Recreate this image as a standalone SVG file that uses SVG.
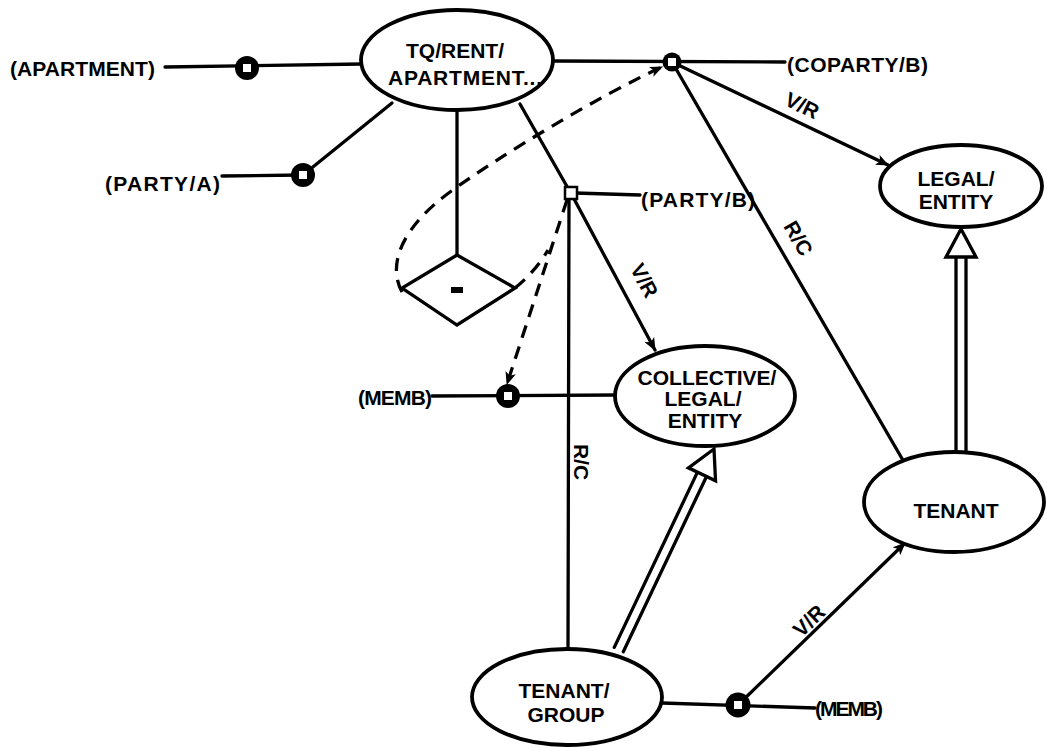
<svg xmlns="http://www.w3.org/2000/svg" width="1047" height="749" viewBox="0 0 1047 749">
<defs>
<marker id="ah" viewBox="0 0 12 10" refX="11" refY="5" markerWidth="13" markerHeight="11" markerUnits="userSpaceOnUse" orient="auto">
<path d="M0,0 L12,5 L0,10 L3,5 Z" fill="#000"/>
</marker>
<style>
.ln{stroke:#000;stroke-width:3.3;fill:none;stroke-linecap:round}
.ds{stroke:#000;stroke-width:3.3;fill:none;stroke-dasharray:13 9}
.nd{fill:#fff;stroke:#000;stroke-width:3.8}
.t{font-family:"Liberation Sans",Arial,sans-serif;font-weight:bold;font-size:21px;fill:#000}
.c{text-anchor:middle}
.el{font-family:"Liberation Sans",Arial,sans-serif;font-weight:bold;font-size:21px;fill:#000;text-anchor:middle}
.ring{fill:#000}
.hole{fill:#fff}
</style>
</defs>
<rect width="1047" height="749" fill="#fff"/>

<g id="connectors">
<line class="ln" x1="165" y1="67" x2="362" y2="64"/>
<line class="ln" x1="222" y1="176" x2="303" y2="175"/>
<line class="ln" x1="303" y1="175" x2="392" y2="103"/>
<line class="ln" x1="553" y1="61" x2="785" y2="62"/>
<line class="ln" x1="457" y1="110" x2="457" y2="255"/>
<line class="ln" x1="520" y1="104" x2="569" y2="190"/>
<line class="ln" x1="575" y1="193" x2="640" y2="195"/>
<line class="ln" x1="672" y1="62" x2="888" y2="165" marker-end="url(#ah)"/>
<line class="ln" x1="672" y1="62" x2="904" y2="462"/>
<line class="ln" x1="573" y1="197" x2="655" y2="350" marker-end="url(#ah)"/>
<line class="ln" x1="569" y1="198" x2="568" y2="650"/>
<line class="ln" x1="432" y1="396" x2="616" y2="395"/>
<line class="ln" x1="662" y1="703" x2="815" y2="708"/>
<line class="ln" x1="738" y1="705" x2="905" y2="543" marker-end="url(#ah)"/>
<path class="ds" d="M402,292 C386,262 405,225 450,192 S600,95 662,67" marker-end="url(#ah)"/>
<path class="ds" d="M515,288 Q535,272 548,250"/>
<line class="ds" x1="567" y1="200" x2="507" y2="384" marker-end="url(#ah)"/>
<g transform="translate(961,229)">
<line class="ln" x1="-5" y1="28" x2="-5" y2="233"/>
<line class="ln" x1="5" y1="28" x2="5" y2="233"/>
<polygon points="0,0 -15,28 15,28" fill="#fff" stroke="#000" stroke-width="3.3"/>
</g>
<g transform="translate(714,449) rotate(25.4)">
<line class="ln" x1="-5" y1="28" x2="-5" y2="222"/>
<line class="ln" x1="5" y1="28" x2="5" y2="222"/>
<polygon points="0,0 -15,28 15,28" fill="#fff" stroke="#000" stroke-width="3.3"/>
</g>
<text class="el" transform="translate(799,112) rotate(25.5)">V/R</text>
<text class="el" transform="translate(792,242) rotate(60)">R/C</text>
<text class="el" transform="translate(638,284) rotate(62)">V/R</text>
<text class="el" transform="translate(574,462) rotate(90)">R/C</text>
<text class="el" transform="translate(814,626) rotate(-44)">V/R</text>
</g>

<g id="n-apartment"><text class="t" x="10" y="76" textLength="145">(APARTMENT)</text></g>
<g id="n-partya"><text class="t" x="105" y="191" textLength="115">(PARTY/A)</text></g>
<g id="n-coparty"><text class="t" x="787" y="72" textLength="141">(COPARTY/B)</text></g>
<g id="n-partyb"><text class="t" x="641" y="207" textLength="114">(PARTY/B)</text></g>
<g id="n-memb1"><text class="t" x="358" y="405" textLength="74">(MEMB)</text></g>
<g id="n-memb2"><text class="t" x="815" y="716" textLength="68">(MEMB)</text></g>

<g id="n-rent">
<ellipse class="nd" cx="457" cy="60" rx="96" ry="50"/>
<text class="t c" x="455" y="58">TQ/RENT/</text>
<text class="t c" x="465" y="85" textLength="154">APARTMENT...</text>
</g>
<g id="n-legal">
<ellipse class="nd" cx="961" cy="186" rx="81" ry="41"/>
<text class="t c" x="956" y="186">LEGAL/</text>
<text class="t c" x="956" y="209">ENTITY</text>
</g>
<g id="n-collective">
<ellipse class="nd" cx="705" cy="396" rx="90" ry="50"/>
<text class="t c" x="707" y="385">COLLECTIVE/</text>
<text class="t c" x="703" y="406">LEGAL/</text>
<text class="t c" x="705" y="428">ENTITY</text>
</g>
<g id="n-tenant">
<ellipse class="nd" cx="954" cy="502" rx="90" ry="50"/>
<text class="t c" x="956" y="518">TENANT</text>
</g>
<g id="n-group">
<ellipse class="nd" cx="567" cy="697" rx="95" ry="48"/>
<text class="t c" x="564" y="698">TENANT/</text>
<text class="t c" x="566" y="722">GROUP</text>
</g>
<g id="n-diamond">
<polygon points="457,255 515,288 457,325 402,288" fill="#fff" stroke="#000" stroke-width="3.3"/>
<rect x="451" y="287" width="12" height="6" fill="#000"/>
</g>
<g id="n-square">
<rect x="565" y="187" width="12" height="12" fill="#fff" stroke="#000" stroke-width="2.5"/>
</g>
<g id="n-circles">
<circle class="ring" cx="247" cy="68" r="12"/><rect class="hole" x="243" y="64" width="8" height="8"/>
<circle class="ring" cx="303" cy="175" r="12"/><rect class="hole" x="299" y="171" width="8" height="8"/>
<circle class="ring" cx="672" cy="62" r="9.5"/><rect class="hole" x="668" y="58" width="8" height="8"/>
<circle class="ring" cx="508" cy="396" r="12"/><rect class="hole" x="504" y="392" width="8" height="8"/>
<circle class="ring" cx="738" cy="705" r="12.5"/><rect class="hole" x="734" y="701" width="8" height="8"/>
</g>
</svg>
